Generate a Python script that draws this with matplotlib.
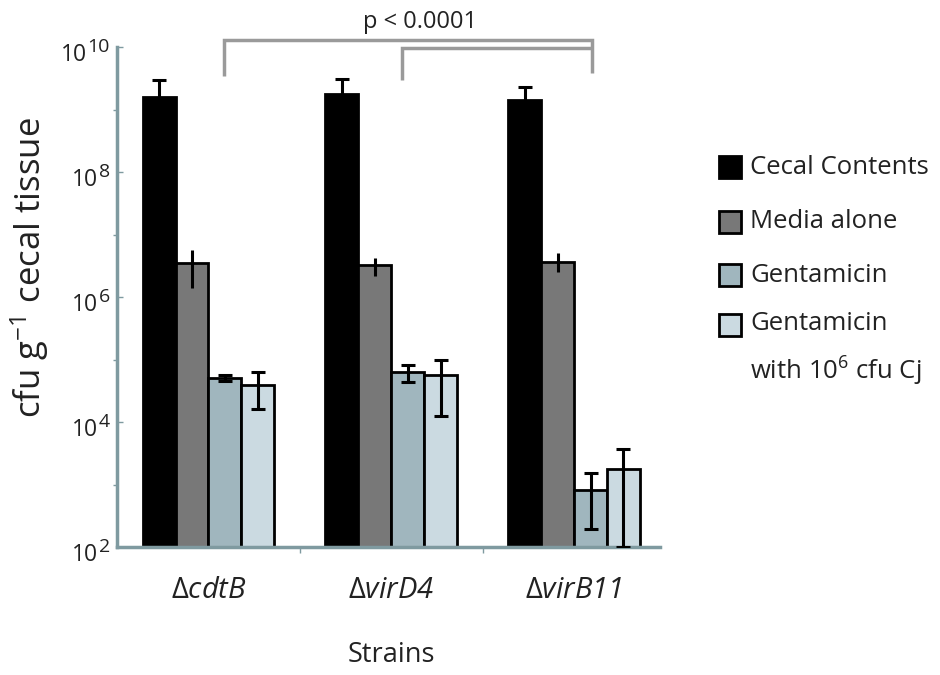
import numpy as np
import matplotlib
matplotlib.use("Agg")
import matplotlib.pyplot as plt
from matplotlib.patches import Rectangle
from matplotlib.ticker import FixedLocator, NullFormatter

plt.rcParams["font.family"] = ["Open Sans", "DejaVu Sans"]
plt.rcParams["mathtext.fontset"] = "custom"
plt.rcParams["mathtext.rm"] = "Open Sans"
plt.rcParams["mathtext.it"] = "Open Sans:italic"
plt.rcParams["mathtext.bf"] = "Open Sans:bold"

# ---- data -------------------------------------------------------------
strains = ["cdtB", "virD4", "virB11"]
series = ["Cecal Contents", "Media alone", "Gentamicin",
          "Gentamicin\nwith 10$^{6}$ cfu Cj"]

cecal = [1.6e9, 1.8e9, 1.4e9]
cecal_lo = [1.2e9, 1.4e9, 1.0e9]
cecal_hi = [2.95e9, 3.1e9, 2.3e9]

media = [3.5e6, 3.2e6, 3.6e6]
media_lo = [1.4e6, 2.2e6, 2.5e6]
media_hi = [5.6e6, 4.2e6, 5.0e6]

gent = [5.0e4, 6.3e4, 8.1e2]
gent_lo = [4.5e4, 4.4e4, 1.95e2]
gent_hi = [5.6e4, 8.1e4, 1.5e3]

gent_cj = [3.9e4, 5.6e4, 1.8e3]
gent_cj_lo = [1.6e4, 1.26e4, 1.0e2]
gent_cj_hi = [6.3e4, 1.0e5, 3.7e3]

y_exponents = [2, 4, 6, 8, 10]
p_text = "p < 0.0001"

# ---- styling ------------------------------------------------------------
colors = ["#000000", "#787878", "#a0b6be", "#cbdae1"]
capsizes = [5, 0, 5, 5]
axis_color = "#7f9aa0"
text_color = "#222222"

fig = plt.figure(figsize=(9.4, 6.75), dpi=100)
ax = fig.add_axes([117 / 940, 1 - 547 / 675, (660 - 117) / 940, (547 - 47) / 675])

x = np.arange(len(strains))
width = 0.18
offsets = (np.arange(4) - 1.5) * width

values = [cecal, media, gent, gent_cj]
lows = [cecal_lo, media_lo, gent_lo, gent_cj_lo]
highs = [cecal_hi, media_hi, gent_hi, gent_cj_hi]

for i in range(4):
    v = np.array(values[i])
    yerr = np.vstack([v - np.array(lows[i]), np.array(highs[i]) - v])
    ax.bar(x + offsets[i], v, width, color=colors[i], edgecolor="black",
           linewidth=2, zorder=2)
    ax.errorbar(x + offsets[i], v, yerr=yerr, fmt="none", ecolor="black",
                elinewidth=2.2, capsize=capsizes[i], capthick=2.2, zorder=3)

ax.set_yscale("log")
ax.set_ylim(1e2, 1e10)
ax.set_xlim(-0.5, 2.47)

major = [10.0 ** e for e in y_exponents]
ax.yaxis.set_major_locator(FixedLocator(major))
ax.yaxis.set_major_formatter(NullFormatter())
ax.yaxis.set_minor_locator(FixedLocator([1e3, 1e5, 1e7, 1e9]))
ax.yaxis.set_minor_formatter(NullFormatter())
ax.tick_params(axis="y", which="major", direction="in", length=4, width=1,
               color=axis_color)
ax.tick_params(axis="y", which="minor", direction="out", length=3, width=1,
               color=axis_color)

# power-of-ten tick labels with a large raised exponent
for e, v in zip(y_exponents, major):
    sup = ax.annotate(str(e), xy=(0, v), xycoords=("axes fraction", "data"),
                      xytext=(-5, 0), textcoords="offset points",
                      ha="right", va="center", fontsize=14, color=text_color)
    ax.annotate("10", xy=(0, v), xycoords=(sup, "data"),
                xytext=(-0.3, -5.5), textcoords="offset points",
                ha="right", va="center", fontsize=16.5, color=text_color)

ax.xaxis.set_major_locator(FixedLocator([0.5, 1.5]))
ax.xaxis.set_major_formatter(NullFormatter())
ax.tick_params(axis="x", which="major", direction="out", length=4, width=1,
               color=axis_color)
ax.xaxis.set_minor_locator(FixedLocator([]))

for s in ["top", "right"]:
    ax.spines[s].set_visible(False)
for s in ["left", "bottom"]:
    ax.spines[s].set_color(axis_color)
    ax.spines[s].set_linewidth(2.5)

# strain labels under each group
for xi, name in zip(x, strains):
    ax.text(xi, -0.086, r"$\Delta$" + name, transform=ax.get_xaxis_transform(),
            ha="center", va="center", fontsize=21, style="italic",
            color=text_color)

fig.text(391 / 940, 1 - 655 / 675, "Strains", ha="center", va="center",
         fontsize=19.5, color=text_color)
fig.text(30 / 940, 1 - 268 / 675, "cfu g$^{-1}$ cecal tissue", rotation=90,
         ha="center", va="center", fontsize=25, color=text_color)

# significance brackets
bk = dict(color="#9a9a9a", lw=2.5, clip_on=False, solid_capstyle="butt",
          solid_joinstyle="miter")
ax.plot([0.085, 0.085, 2.10, 2.10], [10 ** 9.54, 10 ** 10.11, 10 ** 10.11, 10 ** 9.58], **bk)
ax.plot([1.057, 1.057, 2.10], [10 ** 9.47, 10 ** 9.98, 10 ** 9.98], **bk)
ax.text(1.16, 10 ** 10.40, p_text, ha="center", va="center", fontsize=17,
        color=text_color)

# legend
leg_y = [167, 222, 275, 325]
for y, c, lab in zip(leg_y, colors, series):
    fig.add_artist(Rectangle(((730 - 11) / 940, 1 - (y + 11) / 675), 22 / 940, 22 / 675,
                             facecolor=c, edgecolor="black", linewidth=2,
                             transform=fig.transFigure))
    if "\n" in lab:
        fig.text(750 / 940, 1 - (y - 14) / 675, lab, ha="left", va="top",
                 fontsize=18.5, color=text_color, linespacing=1.75)
    else:
        fig.text(750 / 940, 1 - y / 675, lab, ha="left", va="center",
                 fontsize=18.5, color=text_color)

fig.savefig("out.png", dpi=100)
